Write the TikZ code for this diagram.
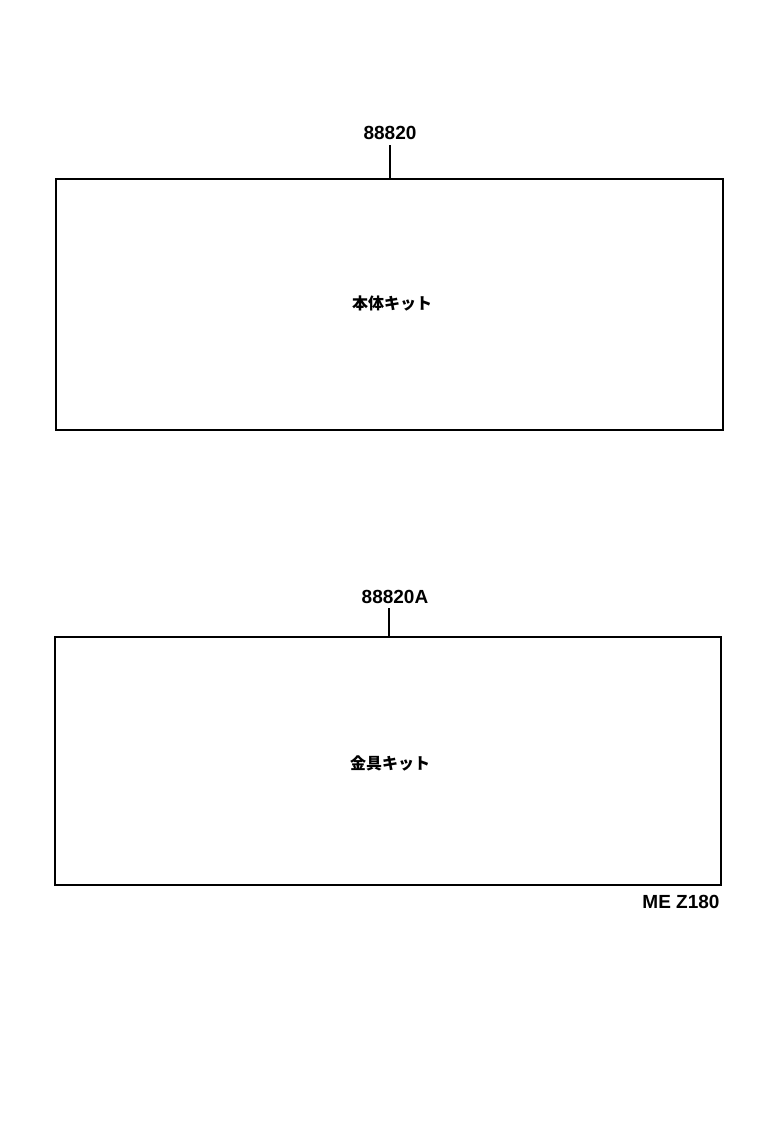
\documentclass[tikz,border=0pt]{standalone}
\usepackage{fontspec}
\setmainfont{Liberation Sans}
\newfontfamily\jpfont{Noto Sans CJK JP}
\usetikzlibrary{positioning}
\usetikzlibrary{calc}
\colorlet{border}{black}
\newcommand\kitwidth{667}
\newcommand\kitheight{250}
\begin{document}
\begin{tikzpicture}[x=1pt, y=-1pt, line width=2.4pt]
    \tikzset{
        kit box/.style={
            border, fill=white,
        },
        part number/.style={
            font=\bfseries\fontsize{19}{21}\selectfont,
            inner sep=0pt, anchor=south,
        },
        kit name/.style={
            font=\jpfont\bfseries\fontsize{16}{18}\selectfont,
            inner sep=0pt,
        },
    }

    \useasboundingbox (0, 0) rectangle (776, 1122);

    % Body kit
    \coordinate (body-tl) at (56, 179);
    \coordinate (body-br) at ($(body-tl)+(\kitwidth, 251)$);
    \draw[kit box] (body-tl) rectangle (body-br);
    \node[kit name] (body-name) at (392, 303) {本体キット};
    \coordinate (body-top) at (390, 179);
    \node[part number] (body-number) at (390, 141) {88820};
    \draw[border] (body-number.south) ++(0, 4) -- (body-top);

    % Fittings kit
    \coordinate (fit-tl) at (55, 637);
    \coordinate (fit-br) at ($(fit-tl)+(\kitwidth - 1, \kitheight - 2)$);
    \draw[kit box] (fit-tl) rectangle (fit-br);
    \node[kit name] (fit-name) at (390, 763) {金具キット};
    \coordinate (fit-top) at (389, 637);
    \node[part number] (fit-number) at (395, 605) {88820A};
    \draw[border] (fit-number.south -| fit-top) ++(0, 3) -- (fit-top);

    % Figure code
    \node[part number, anchor=center] (figure-code) at (681, 902) {ME Z180};
\end{tikzpicture}
\end{document}
